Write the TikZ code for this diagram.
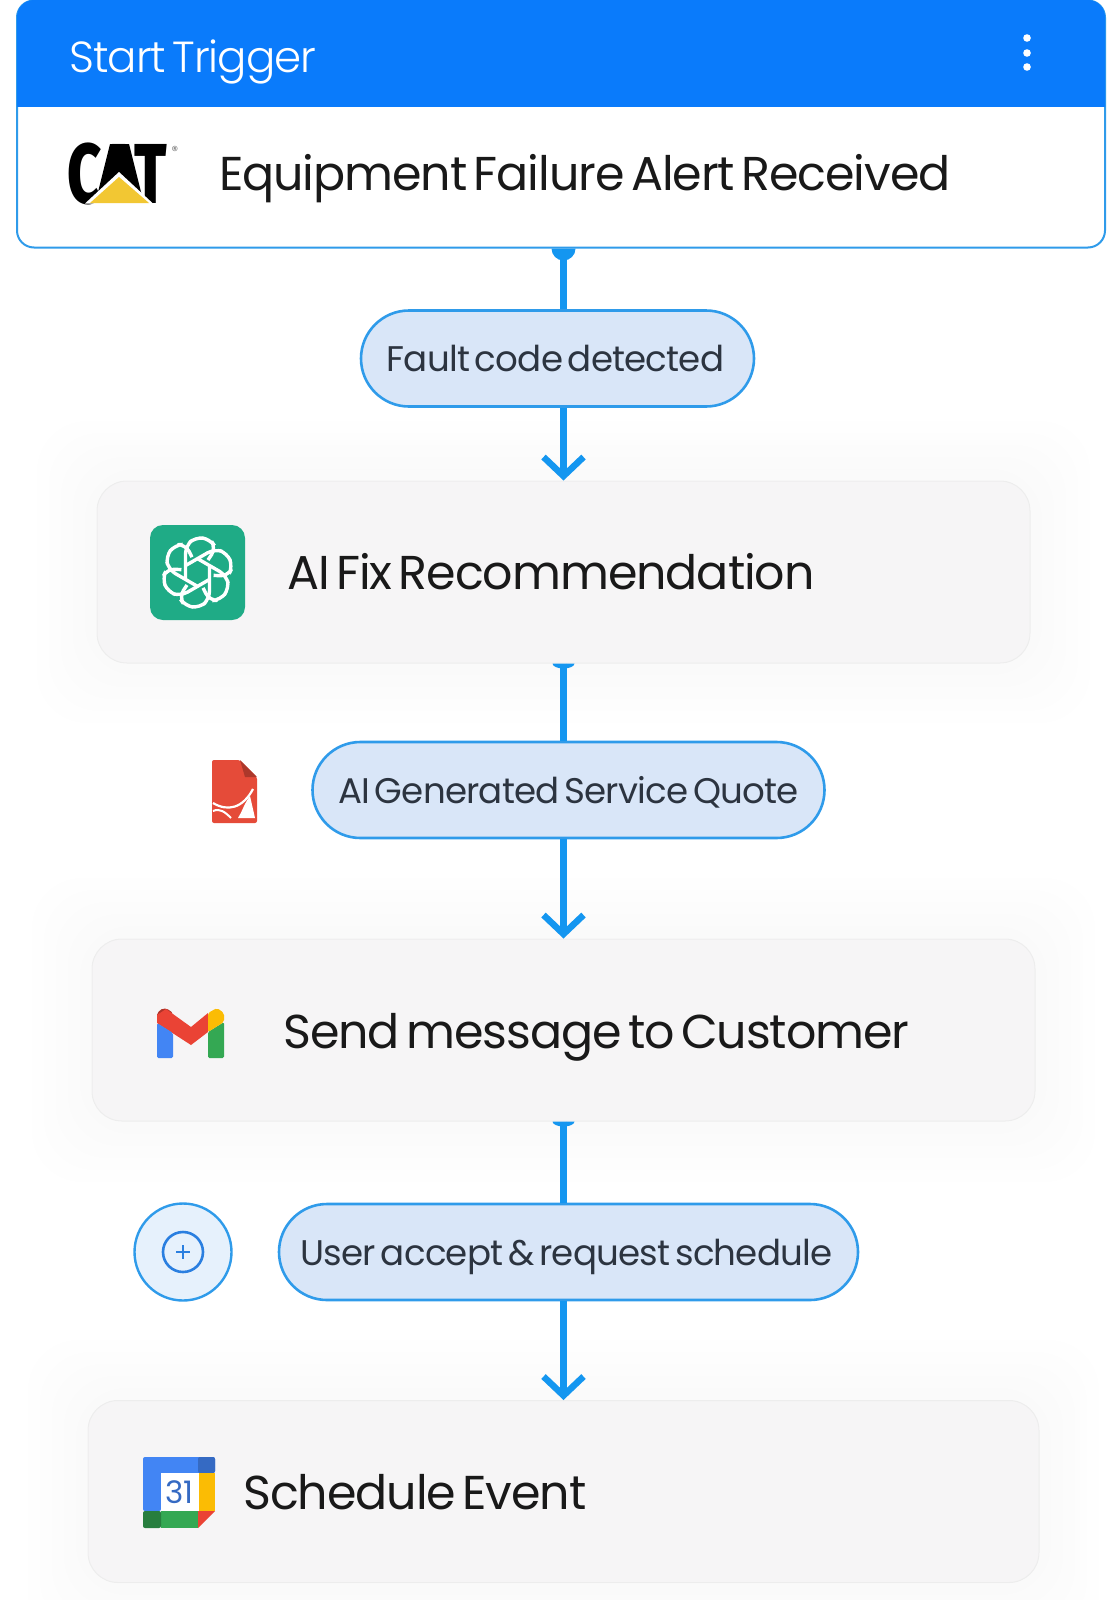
\documentclass[tikz,border=0pt]{standalone}
\usepackage{fontspec}
\setmainfont[LetterSpace=-2.2, WordSpace=0.55]{Poppins}
\newfontfamily\lightfont[LetterSpace=-2.2, WordSpace=0.55]{Poppins Light}
\newfontfamily\catfont{Fira Sans ExtraBold}
\usetikzlibrary{arrows.meta}
\definecolor{headblue}{HTML}{0A7BFB}
\definecolor{edgeblue}{HTML}{2F9BEA}
\definecolor{linkblue}{HTML}{1496F0}
\definecolor{pillfill}{HTML}{D9E6F8}
\definecolor{pillink}{HTML}{2C3440}
\definecolor{cardfill}{HTML}{F6F5F6}
\definecolor{addfill}{HTML}{E6F1FC}
\definecolor{addblue}{HTML}{2A7FE0}
\definecolor{gptgreen}{HTML}{1FAB86}
\definecolor{pdfred}{HTML}{E54B39}
\definecolor{catyellow}{HTML}{F2C733}
\definecolor{gblue}{HTML}{4285F4}
\definecolor{ggreen}{HTML}{34A853}
\definecolor{gred}{HTML}{EA4335}
\definecolor{gyellow}{HTML}{FBBC04}
\tikzset{
card/.style={draw=black!7, line width=1pt, fill=cardfill, rounded corners=30pt, inner sep=0pt, minimum width=#1, minimum height=182pt},
pill/.style={draw=edgeblue, line width=2.6pt, fill=pillfill, rounded corners=48pt, inner sep=0pt, minimum width=#1, minimum height=96pt},
cardtext/.style={anchor=base west, inner sep=0pt, text=black!90, font=\fontsize{47.5}{50}\selectfont},
pilltext/.style={anchor=base, inner sep=0pt, text=pillink, font=\fontsize{35.6}{40}\selectfont},
link/.style={draw=linkblue, line width=6.5pt},
arrowlink/.style={link, -{Straight Barb[length=19pt,width=40pt]}},
}
\begin{document}
\begin{tikzpicture}[x=1pt,y=-1pt]
\useasboundingbox (0,0) rectangle (1115,1600);
% soft glow round the cards
\foreach \s in {12,24,...,60}{
\fill[black, opacity=0.005, rounded corners=50pt] (97-\s,481-\s) rectangle (1030+\s,663+\s);
\fill[black, opacity=0.005, rounded corners=50pt] (92-\s,938-\s) rectangle (1035+\s,1122+\s);
\fill[black, opacity=0.005, rounded corners=50pt] (88-\s,1400-\s) rectangle (1039+\s,1583+\s);
}
% trigger card
\node[draw=edgeblue, line width=2pt, fill=white, rounded corners=17pt, inner sep=0pt, minimum width=1088pt, minimum height=247pt] (startcard) at (561,124) {};
\fill[headblue, rounded corners=17pt] (17,107) [sharp corners] -- (17,107) [rounded corners=17pt] -- (17,0) -- (1105,0) [sharp corners] -- (1105,107) -- cycle;
\node[anchor=base west, inner sep=0pt, text=white, font=\lightfont\fontsize{43.5}{50}\selectfont] (starttext) at (69,73) {Start Trigger};
\foreach \y in {38,53,67}{
\fill[white] (1027,\y) circle (3.8);
}
\node[cardtext] (failtext) at (219,190) {Equipment Failure Alert Received};
% boxes down the page
\node[card=933pt] (fixcard) at (563.5,572) {};
\node[card=943pt] (mailcard) at (563.5,1030) {};
\node[card=951pt] (eventcard) at (563.5,1491.5) {};
\node[cardtext] (fixtext) at (287,589) {AI Fix Recommendation};
\node[cardtext] (mailtext) at (283,1048) {Send message to Customer};
\node[cardtext] (eventtext) at (243,1509) {Schedule Event};
\node[pill=393pt] (faultpill) at (557.5,358.5) {};
\node[pill=512pt] (quotepill) at (568.5,790) {};
\node[pill=579pt] (userpill) at (568.5,1252) {};
\node[pilltext] (faulttext) at (555.5,371) {Fault code detected};
\node[pilltext] (quotetext) at (568.5,803) {AI Generated Service Quote};
\node[pilltext] (usertext) at (566.5,1265) {User accept \& request schedule};
% connectors
\draw[link] (fixcard.north |- startcard.south) -- (fixcard.north |- faultpill.north);
\draw[arrowlink] (fixcard.north |- faultpill.south) -- (fixcard.north);
\draw[link] (fixcard.south) -- (fixcard.south |- quotepill.north);
\draw[arrowlink] (fixcard.south |- quotepill.south) -- (mailcard.north);
\draw[link] (mailcard.south) -- (mailcard.south |- userpill.north);
\draw[arrowlink] (mailcard.south |- userpill.south) -- (eventcard.north);
\fill[linkblue] ([xshift=-12pt]fixcard.north |- startcard.south) arc[start angle=180, end angle=0, radius=12];
\fill[linkblue] ([xshift=-11pt]fixcard.south) arc[start angle=180, end angle=0, x radius=11, y radius=5];
\fill[linkblue] ([xshift=-11pt]mailcard.south) arc[start angle=180, end angle=0, x radius=11, y radius=5];
% cat logo
\node[inner sep=0pt, anchor=base, font=\catfont\fontsize{85}{88}\selectfont] (catlogo) at (117,203) {\scalebox{0.7}[1]{CAT}};
\fill[black] (110,144) -- (129,144) -- (143,200) -- (96,200) -- cycle;
\fill[white] (119,172) -- (153,203.5) -- (85,203.5) -- cycle;
\fill[catyellow] (119,177) -- (149,203) -- (90,203) -- cycle;
\node[inner sep=0pt, text=black!55, font=\fontsize{13}{13}\selectfont] (catmark) at (175,151) {®};
% gpt logo
\fill[gptgreen, rounded corners=13pt] (150,525) rectangle (245,620);
\foreach \a in {0,60,...,300}{
\draw[white, line width=3.4pt, rounded corners=8pt, rotate around={\a:(197.5,572.5)}] (185.5,579) -- (185.5,546) -- (195.5,537) -- (210,539) -- (216,548) -- (208,560);
}
% pdf icon
\fill[pdfred, rounded corners=2pt] (212,760) -- (240,760) -- (257,777) -- (257,823) -- (212,823) -- cycle;
\fill[pdfred!75!black] (240,760) -- (257,777) -- (245,777) -- cycle;
\draw[white, line width=2.2pt] (213,803) .. controls (228,812) and (243,808) .. (253,789);
\draw[white, line width=2pt] (213,811) .. controls (220,808) and (225,812) .. (231,818);
\fill[white] (238,818) .. controls (242,812) and (244,804) .. (250,796) -- (255,818) -- cycle;
% gmail logo
\fill[gred!75!black, rounded corners=2pt] (157,1023) -- (157,1013) -- (163,1008) -- (170,1010) -- (173,1014) -- (173,1033) -- cycle;
\fill[gred] (166,1009) -- (191,1027) -- (208,1013) -- (208,1032) -- (191,1045) -- (157,1023) -- (157,1015) -- cycle;
\fill[gblue, rounded corners=1.5pt] (157,1023) -- (173,1033) -- (173,1058) -- (157,1058) -- cycle;
\fill[ggreen, rounded corners=1.5pt] (208,1032) -- (224,1022) -- (224,1058) -- (208,1058) -- cycle;
\fill[gyellow, rounded corners=2pt] (208,1013) -- (217,1008) -- (224,1013) -- (224,1022) -- (208,1032) -- cycle;
% calendar logo
\fill[gblue, rounded corners=2pt] (143,1511) -- (143,1457) -- (215,1457) -- (215,1473) -- (198,1473) -- (161,1473) -- (161,1511) -- cycle;
\fill[gblue!80!black, rounded corners=2pt] (198,1457) -- (215,1457) -- (215,1473) -- (198,1473) -- cycle;
\fill[gyellow] (198,1473) rectangle (215,1511);
\fill[ggreen] (161,1511) rectangle (198,1528);
\fill[ggreen!75!black, rounded corners=2pt] (143,1511) -- (161,1511) -- (161,1528) -- (143,1528) -- cycle;
\fill[gred] (198,1511) -- (215,1511) -- (198,1528) -- cycle;
\node[fill=white, inner sep=0pt, minimum size=38pt, text=gblue!80!black, font=\fontsize{31}{31}\selectfont] (calday) at (179.5,1492) {31};
% add button
\node[circle, draw=edgeblue, line width=2.4pt, fill=addfill, inner sep=0pt, minimum size=97pt] (addcircle) at (183,1252) {};
\node[circle, draw=addblue, line width=2.6pt, inner sep=0pt, minimum size=40pt] (addinner) at (addcircle) {};
\draw[addblue, line width=2.6pt] (addinner.center) +(-7,0) -- +(7,0) +(0,-7) -- +(0,7);
\end{tikzpicture}
\end{document}
